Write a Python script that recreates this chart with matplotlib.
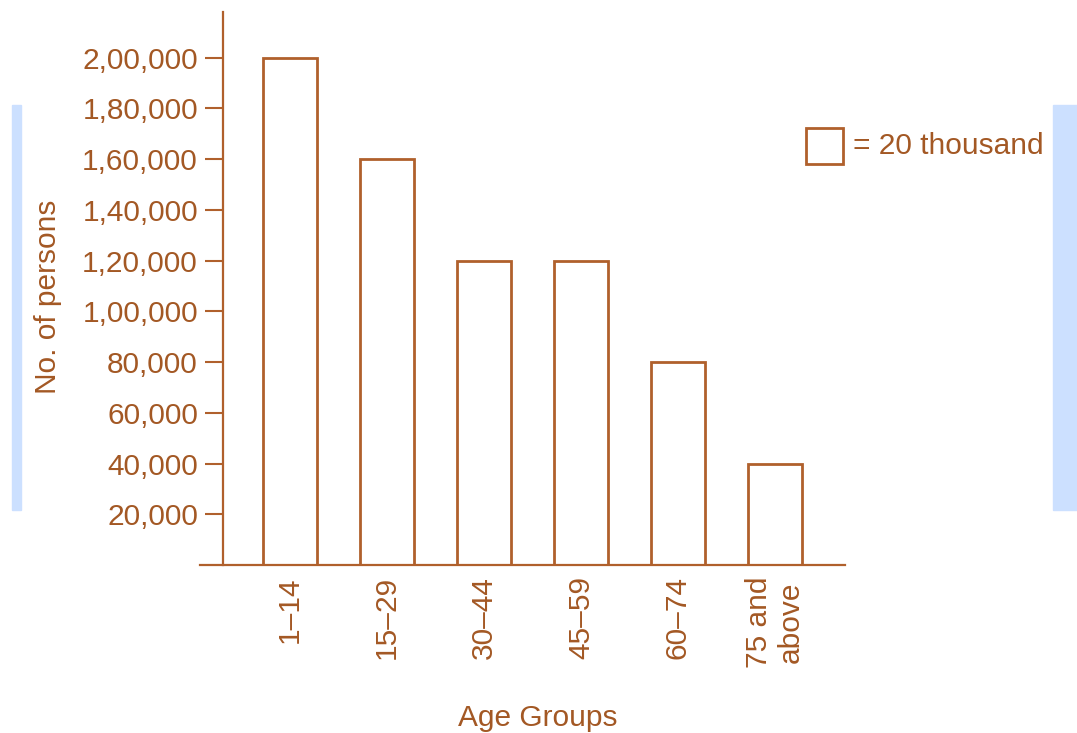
import matplotlib
matplotlib.use("Agg")
import matplotlib.pyplot as plt
import matplotlib.patches as mpatch

# data
age_groups = ["1–14", "15–29", "30–44", "45–59", "60–74", "75 and\nabove"]
persons = [200000, 160000, 120000, 120000, 80000, 40000]
yticks = [20000, 40000, 60000, 80000, 100000, 120000, 140000, 160000, 180000, 200000]
ytick_labels = ["20,000", "40,000", "60,000", "80,000", "1,00,000",
                "1,20,000", "1,40,000", "1,60,000", "1,80,000", "2,00,000"]

brown = "#b0602c"
txt = "#a35824"
blue = "#cce0ff"
fs = 21.5

plt.rcParams['font.family'] = ['Liberation Sans', 'DejaVu Sans']

W, H = 1077, 733
fig = plt.figure(figsize=(W / 100, H / 100), dpi=100)
ax = fig.add_axes([200 / W, (H - 565) / H, (845 - 200) / W, (565 - 12) / H])

x = list(range(len(age_groups)))
ax.bar(x, persons, width=0.56, fill=False, edgecolor=brown, linewidth=2)

ax.set_xlim(-0.928, 5.722)
ax.set_ylim(0, 218000)

for s in ["top", "right"]:
    ax.spines[s].set_visible(False)
ax.spines["left"].set_position(("data", -0.691))
ax.spines["left"].set_color(brown)
ax.spines["bottom"].set_color(brown)
ax.spines["left"].set_linewidth(1.6)
ax.spines["bottom"].set_linewidth(1.6)

ax.set_yticks(yticks)
ax.set_yticklabels(ytick_labels)
ax.tick_params(axis="y", direction="out", length=13, width=1.5, color=brown,
               labelcolor=txt, labelsize=fs, pad=5)
ax.set_xticks(x)
ax.set_xticklabels(age_groups, rotation=90, multialignment="center")
ax.tick_params(axis="x", length=0, labelcolor=txt, labelsize=fs, pad=8)

fig.text(48 / W, 1 - 297 / H, "No. of persons", rotation=90, color=txt,
         fontsize=fs, ha="center", va="center")
fig.text(538 / W, 1 - 718 / H, "Age Groups", color=txt, fontsize=fs,
         ha="center", va="center")

# legend key
fig.add_artist(mpatch.Rectangle((806 / W, 1 - 164 / H), 37 / W, 36 / H,
                                fill=False, edgecolor=brown, linewidth=2,
                                transform=fig.transFigure))
fig.text(853 / W, 1 - 146 / H, "= 20 thousand", color=txt, fontsize=fs,
         ha="left", va="center")

# blue side strips
fig.add_artist(mpatch.Rectangle((12 / W, 1 - 510 / H), 9 / W, 405 / H,
                                color=blue, transform=fig.transFigure))
fig.add_artist(mpatch.Rectangle((1053 / W, 1 - 510 / H), 24 / W, 405 / H,
                                color=blue, transform=fig.transFigure))

fig.savefig("out.png", dpi=100)
